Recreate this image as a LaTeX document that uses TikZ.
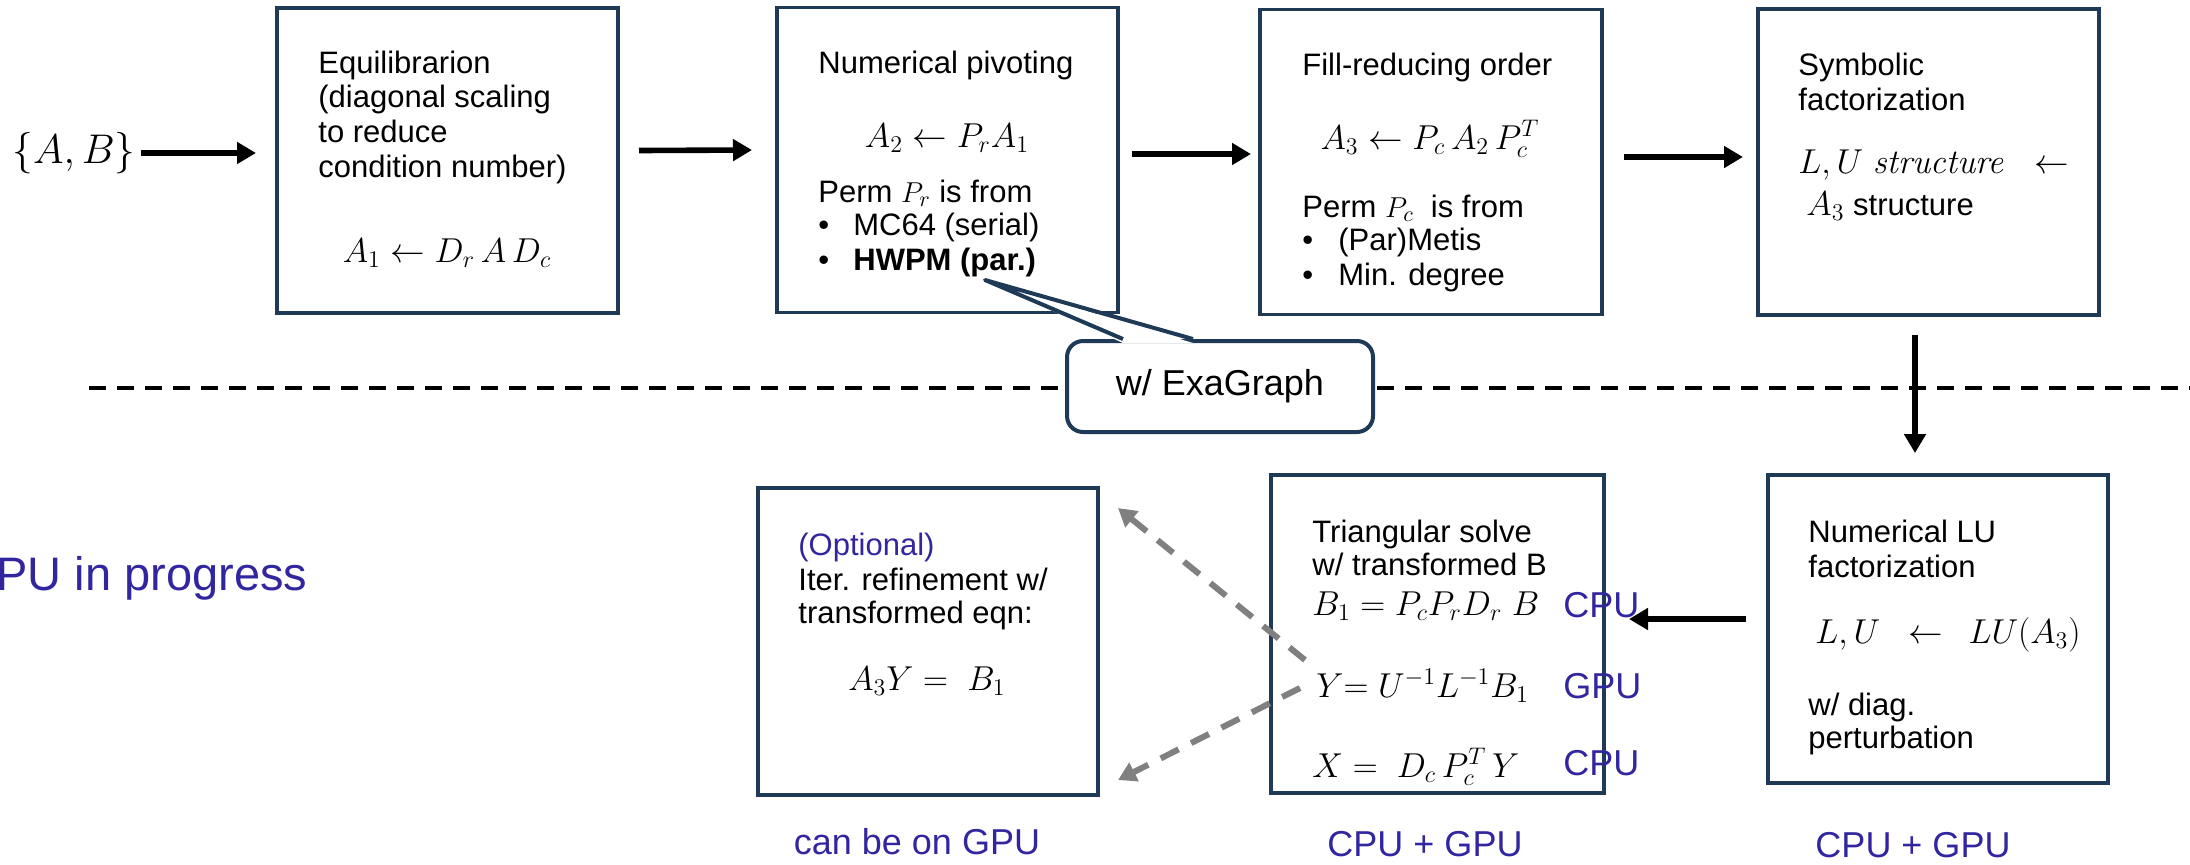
\documentclass[tikz,border=0pt]{standalone}
\usepackage[no-math]{fontspec}
\setmainfont{Liberation Sans}
\usepackage{amsmath}
\usetikzlibrary{arrows.meta,calc}
\definecolor{boxc}{RGB}{31,58,87}
\definecolor{bluec}{RGB}{50,38,160}
\definecolor{grayc}{RGB}{128,128,128}
\begin{document}
\begin{tikzpicture}[x=0.5pt,y=-0.5pt,
  box/.style={draw=boxc, line width=1.7pt, inner sep=0pt, outer sep=0pt},
  txt/.style={anchor=base west, inner sep=0pt, font=\fontsize{15.5}{18}\selectfont},
  mth/.style={inner sep=0pt, font=\fontsize{17}{20}\selectfont},
  blue lbl/.style={inner sep=0pt, text=bluec, font=\fontsize{18}{21}\selectfont},
  arr/.style={-{Triangle[length=9.5pt,width=10.5pt]}, line width=2.8pt, black},
  garr/.style={-{Triangle[length=9pt,width=10pt]}, line width=3pt, grayc, dash pattern=on 10pt off 7pt},
  bubble/.style={draw=boxc, line width=2pt, fill=white, rounded corners=8pt, inner sep=0pt,
     minimum width=153pt, minimum height=45.5pt, font=\fontsize{18}{21}\selectfont}]
\path[use as bounding box] (0,0) rectangle (2190,864);

% dashed separator
\coordinate (dl) at (89,388);
\coordinate (dr) at (2190,388);
\draw[line width=2pt, dash pattern=on 8.5pt off 5.5pt] (dl) -- (dr);

% boxes
\node[box, minimum width=170.5pt, minimum height=152.5pt] (b1) at (447.5,160.5) {};
\node[box, minimum width=170.5pt, minimum height=152.5pt] (b2) at (947.5,160) {};
\node[box, minimum width=171pt, minimum height=152.5pt] (b3) at (1431,162) {};
\node[box, minimum width=170.5pt, minimum height=153pt] (b4) at (1928.5,162) {};
\node[box, minimum width=170pt, minimum height=154pt] (b5) at (1938,629) {};
\node[box, minimum width=166.5pt, minimum height=159pt] (b6) at (1437.5,634) {};
\node[box, minimum width=170pt, minimum height=153.5pt] (b7) at (928,641.5) {};

% input
\node[inner sep=0pt, font=\fontsize{20}{24}\selectfont] (ab) at (74,153) {$\{A,B\}$};

% box 1
\node[txt] (t11) at (318,73) {Equilibrarion};
\node[txt] (t12) at (318,107) {(diagonal scaling};
\node[txt] (t13) at (318,142) {to reduce};
\node[txt] (t14) at (318,177) {condition number)};
\node[mth, anchor=base] (m1) at (447,262) {$A_1 \leftarrow D_r\,A\,D_c$};

% box 2
\node[txt] (t21) at (818,73) {Numerical pivoting};
\node[mth, anchor=base] (m2) at (947,147) {$A_2 \leftarrow P_rA_1$};
\node[txt] (t22) at (818,202) {Perm $P_r$ is from};
\node[txt] (t23) at (818,235) {\textbullet};
\node[txt] (t24) at (853,235) {MC64 (serial)};
\node[txt] (t25) at (818,270) {\textbullet};
\node[txt] (t26) at (853,270) {\bfseries HWPM (par.)};

% box 3
\node[txt] (t31) at (1302,75) {Fill-reducing order};
\node[mth, anchor=base] (m3) at (1430,149) {$A_3 \leftarrow P_c\,A_2\,P_c^T$};
\node[txt] (t32) at (1302,217) {Perm $P_c$\ \ is from};
\node[txt] (t33) at (1302,250) {\textbullet};
\node[txt] (t34) at (1338,250) {(Par)Metis};
\node[txt] (t35) at (1302,285) {\textbullet};
\node[txt] (t36) at (1338,285) {Min. degree};

% box 4
\node[txt] (t41) at (1798,75) {Symbolic};
\node[txt] (t42) at (1798,110) {factorization};
\node[mth, anchor=base west] (m4) at (1798,173) {$L,U\;\mathit{structure}\;\;\leftarrow$};
\node[txt] (t43) at (1806,215) {{\fontsize{17}{20}\selectfont$A_3$} structure};

% box 5
\node[txt] (t51) at (1808,542) {Numerical LU};
\node[txt] (t52) at (1808,577) {factorization};
\node[mth, anchor=base west] (m5) at (1815,643) {$L,U\;\;\leftarrow\;\,LU(A_3)$};
\node[txt] (t53) at (1808,715) {w/ diag.};
\node[txt] (t54) at (1808,748) {perturbation};

% box 6
\node[txt] (t61) at (1312,542) {Triangular solve};
\node[txt] (t62) at (1312,575) {w/ transformed B};
\node[mth, anchor=base west] (m61) at (1312,615) {$B_1 = P_cP_rD_r\;B$};
\node[mth, anchor=base west] (m62) at (1316,697) {$Y{=}\;U^{-1}L^{-1}B_1$};
\node[mth, anchor=base west] (m63) at (1312,777) {$X = \;D_c\,P_c^T\,Y$};
\node[blue lbl, anchor=base west] (c1) at (1563,617) {CPU};
\node[blue lbl, anchor=base west] (c2) at (1563,698) {GPU};
\node[blue lbl, anchor=base west] (c3) at (1563,775) {CPU};

% box 7
\node[txt, text=bluec] (t71) at (798,555) {(Optional)};
\node[txt] (t72) at (798,590) {Iter. refinement w/};
\node[txt] (t73) at (798,623) {transformed eqn:};
\node[mth, anchor=base] (m7) at (927,690) {$A_3Y = \;B_1$};

% bottom labels
\node[blue lbl] (l7) at (917,842) {can be on GPU};
\node[blue lbl] (l6) at (1425,844) {CPU + GPU};
\node[blue lbl] (l5) at (1913,845) {CPU + GPU};
\node[inner sep=0pt, anchor=base west, text=bluec, font=\fontsize{23.5}{28}\selectfont] (gp) at (-4,590) {PU in progress};

% arrows
\draw[arr] ($(ab.east)+(5,0)$) -- ($(b1.west |- ab.east)+(-21,0)$);
\draw[arr] ($(b1.east)+(21,-10)$) -- ($(b2.west)+(-25,-10)$);
\draw[arr] ($(b2.east)+(14,-6)$) -- ($(b3.west)+(-9,-8)$);
\draw[arr] ($(b3.east)+(22,-5)$) -- ($(b4.west)+(-15,-5)$);
\draw[arr] ($(b4.south)+(-13.5,20)$) -- ($(b5.north)+(-23,-22)$);
\draw[arr] ($(b5.west)+(-22,-10)$) -- ($(b6.east)+(25,-15)$);

% gray dashed arrows
\draw[garr] ($(b6.west)+(34,26)$) -- ($(b7.north east)+(20,20)$);
\draw[garr] ($(b6.west)+(29,54)$) -- ($(b7.south east)+(20,-15)$);

% callout
\node[bubble] (cb) at (1220,386.5) {w/ ExaGraph};
\coordinate (ptip) at (985,280);
\fill[white] ($(cb.north)+(-97,4)$) -- (ptip) -- ($(cb.north)+(-27,4)$) -- cycle;
\draw[boxc, line width=2pt, line join=round] ($(cb.north)+(-97,0)$) -- (ptip) -- ($(cb.north)+(-27,0)$);
\end{tikzpicture}
\end{document}
